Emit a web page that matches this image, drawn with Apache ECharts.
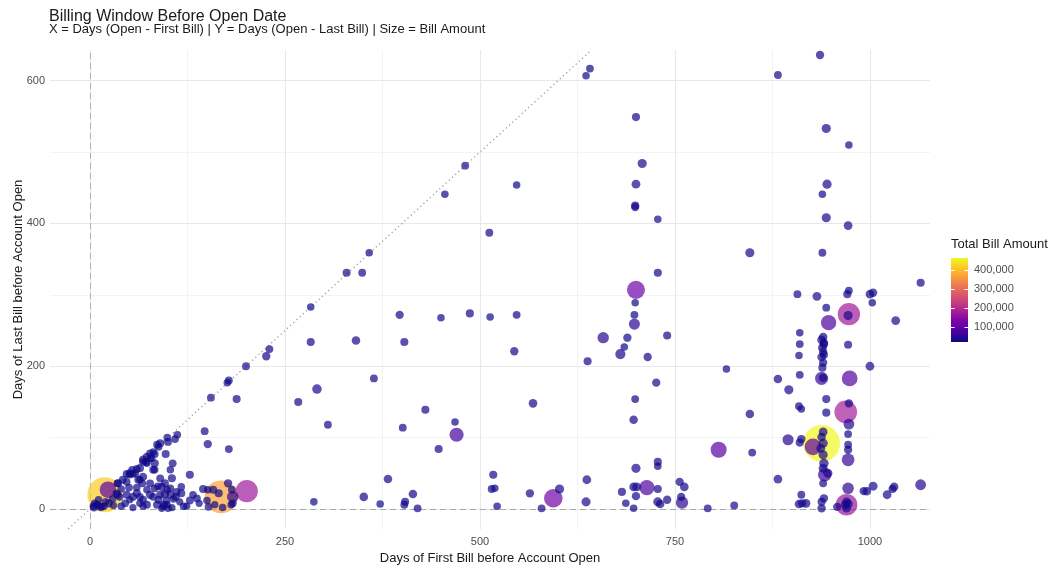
<!DOCTYPE html>
<html>
<head>
<meta charset="utf-8">
<script src="https://cdn.jsdelivr.net/npm/echarts@6/dist/echarts.min.js"></script>
<style>
  html, body { margin: 0; padding: 0; background: #ffffff; }
  #chart { width: 1058px; height: 567px; }
</style>
</head>
<body>
<div id="chart"></div>
<script>
// Each account: [days from first bill to open, days from last bill to open, total bill amount]
const earlyCluster = [
  [19, 20, 418000], [23, 27, 95000], [168, 17, 372000], [201, 25, 170000],
  [5, 2, 24000], [8, 6, 22000], [11, 13, 23000], [13, 3, 25000], [18, 4, 22000], [24, 8, 26000],
  [29, 14, 23000], [34, 22, 24000], [4, 4, 22000], [6, 8, 23000], [10, 6, 22000], [15, 3, 24000],
  [20, 10, 23000], [30, 5, 22000], [40, 4, 23000], [45, 8, 24000], [55, 2, 22000],
  [35, 20, 25000], [38, 17, 23000], [47, 20, 24000], [51, 13, 22000], [55, 17, 26000], [64, 8, 23000],
  [68, 4, 22000], [73, 6, 24000], [60, 22, 25000], [64, 17, 23000], [68, 13, 24000], [73, 27, 23000],
  [77, 20, 26000], [83, 29, 24000], [92, 31, 25000], [99, 27, 23000], [103, 20, 24000],
  [81, 17, 23000], [90, 20, 24000], [96, 21, 27000], [98, 12, 23000], [95, 6, 24000], [92, 1, 22000],
  [100, 1, 23000], [105, 2, 22000], [86, 6, 25000], [94, 4, 23000], [99, 6, 22000], [88, 13, 24000],
  [110, 17, 24000], [107, 14, 23000], [115, 10, 22000], [117, 22, 25000], [120, 4, 23000], [124, 4, 22000],
  [128, 12, 24000], [132, 20, 23000], [137, 15, 24000], [140, 8, 22000], [150, 12, 23000], [152, 3, 24000],
  [160, 6, 22000], [165, 22, 25000], [170, 2, 23000], [145, 28, 25000], [151, 27, 23000], [158, 27, 24000],
  [177, 36, 26000], [182, 27, 24000], [183, 17, 45000], [181, 6, 23000], [183, 8, 24000],
  [40, 28, 23000], [50, 30, 24000], [60, 30, 23000], [36, 36, 25000], [35, 36, 23000], [42, 41, 24000],
  [47, 38, 23000], [62, 41, 25000], [67, 36, 24000], [64, 41, 23000], [68, 45, 26000], [77, 36, 24000],
  [87, 32, 23000], [96, 36, 25000], [47, 49, 24000], [51, 48, 23000], [51, 50, 25000], [55, 49, 23000],
  [58, 50, 24000], [54, 55, 23000], [60, 56, 24000], [64, 57, 25000], [81, 55, 24000], [83, 55, 23000],
  [83, 64, 25000], [73, 64, 23000], [68, 66, 24000], [72, 66, 23000], [68, 69, 26000], [77, 71, 24000],
  [79, 71, 23000], [73, 73, 25000], [77, 78, 24000], [81, 80, 23000], [83, 77, 24000], [97, 77, 25000],
  [86, 90, 24000], [88, 87, 23000], [90, 92, 25000], [100, 94, 24000], [99, 100, 23000], [109, 98, 24000],
  [112, 104, 23000], [90, 43, 24000], [105, 43, 25000], [103, 55, 23000], [106, 64, 24000], [128, 48, 25000],
  [103, 29, 23000], [111, 24, 24000], [117, 31, 23000], [147, 109, 24000], [151, 91, 26000], [178, 84, 24000],
  [155, 156, 24000], [188, 154, 25000], [178, 180, 24000], [176, 177, 23000], [200, 200, 24000],
  [230, 224, 24000], [226, 214, 26000]
];

const midSpread = [
  [267, 150, 25000], [283, 283, 23000], [283, 234, 25000], [291, 168, 32000], [305, 118, 24000],
  [329, 331, 25000], [349, 331, 24000], [358, 359, 23000], [341, 236, 27000], [364, 183, 24000],
  [382, 42, 27000], [397, 272, 26000], [401, 114, 24000], [403, 234, 25000], [414, 21, 27000],
  [404, 10, 25000], [403, 6, 24000], [420, 1, 24000], [372, 7, 23000], [351, 17, 27000], [287, 10, 23000],
  [430, 139, 25000], [447, 84, 25000], [450, 268, 23000], [455, 441, 23000], [468, 122, 23000],
  [470, 104, 68000], [481, 481, 24000], [487, 274, 25000], [512, 387, 24000], [513, 269, 23000],
  [515, 28, 24000], [517, 48, 25000], [519, 29, 23000], [522, 4, 23000], [544, 221, 26000],
  [547, 272, 24000], [547, 454, 23000], [564, 22, 26000], [568, 148, 27000], [579, 1, 24000],
  [594, 15, 118000], [602, 28, 30000],
  [641, 617, 24000], [636, 607, 23000], [700, 549, 25000], [708, 484, 30000], [700, 455, 28000],
  [699, 425, 25000], [699, 423, 26000], [728, 406, 23000], [728, 331, 25000], [700, 307, 112000],
  [699, 289, 23000], [698, 272, 24000], [698, 259, 42000], [658, 240, 44000], [689, 240, 26000],
  [685, 227, 23000], [680, 217, 36000], [715, 213, 26000], [740, 243, 25000], [638, 207, 25000],
  [726, 177, 26000], [699, 154, 24000], [697, 125, 27000], [700, 57, 30000], [728, 66, 25000],
  [728, 60, 23000], [637, 41, 28000], [636, 10, 30000], [682, 24, 25000], [687, 8, 23000],
  [697, 31, 27000], [701, 31, 29000], [714, 30, 80000], [700, 18, 26000], [697, 1, 23000],
  [728, 28, 25000], [728, 10, 30000], [731, 7, 27000], [740, 13, 26000], [756, 38, 26000],
  [762, 31, 27000], [758, 17, 26000], [759, 9, 52000], [792, 1, 24000], [826, 5, 24000],
  [806, 83, 88000], [816, 196, 23000], [846, 359, 30000], [846, 133, 27000], [849, 79, 24000]
];

const lateBills = [
  [936, 636, 26000], [882, 608, 24000], [944, 533, 30000], [973, 510, 23000], [945, 455, 30000],
  [939, 441, 23000], [944, 408, 30000], [972, 397, 28000], [939, 359, 24000], [1065, 317, 25000],
  [907, 301, 24000], [932, 298, 28000], [973, 306, 24000], [971, 301, 25000], [1000, 301, 27000],
  [1004, 303, 26000], [1003, 289, 23000], [944, 282, 24000], [973, 273, 172000], [972, 271, 30000],
  [947, 261, 80000], [1033, 264, 28000], [910, 247, 23000], [910, 231, 24000], [909, 215, 23000],
  [940, 241, 27000], [938, 237, 28000], [941, 233, 26000], [941, 231, 27000], [939, 226, 28000],
  [940, 220, 26000], [941, 216, 25000], [938, 213, 27000], [940, 205, 26000], [939, 198, 25000],
  [972, 230, 25000], [1000, 200, 28000], [910, 188, 24000], [938, 183, 58000], [940, 184, 27000],
  [974, 183, 85000], [882, 182, 27000], [896, 167, 30000], [944, 154, 25000], [909, 144, 24000],
  [912, 140, 23000], [973, 148, 26000], [969, 136, 178000], [944, 135, 25000], [973, 119, 40000],
  [972, 105, 24000], [895, 97, 42000], [912, 98, 26000], [910, 93, 25000], [938, 92, 462000],
  [927, 87, 95000], [940, 108, 28000], [938, 101, 27000], [940, 92, 30000], [937, 85, 28000],
  [940, 76, 30000], [941, 64, 31000], [940, 57, 29000], [972, 90, 24000], [972, 83, 26000],
  [972, 69, 55000], [942, 48, 62000], [946, 50, 30000], [940, 36, 24000], [882, 42, 28000],
  [972, 29, 45000], [992, 25, 26000], [996, 25, 27000], [1004, 32, 29000], [1022, 20, 28000],
  [1031, 31, 27000], [1029, 28, 25000], [1065, 34, 40000], [912, 20, 24000], [909, 7, 27000],
  [913, 8, 26000], [918, 8, 28000], [941, 15, 26000], [938, 10, 25000], [938, 1, 26000],
  [958, 3, 26000], [970, 10, 28000], [972, 7, 30000], [968, 6, 27000], [970, 6, 162000], [970, 1, 27000]
];

// Axis ticks and gridlines
const xMajorTicks = [0, 250, 500, 750, 1000];
const xMinorTicks = [125, 375, 625, 875];
const yMajorTicks = [0, 200, 400, 600];
const yMinorTicks = [100, 300, 500];
const legendTicks = [100000, 200000, 300000, 400000];

// Colour / size scale domain (bill amount)
const amountMin = 20000;
const amountMax = 465000;

// Plasma palette, low -> high
const plasma = ['#0d0887', '#4c02a1', '#7e03a8', '#a92395', '#cc4778',
                '#e56b5d', '#f89441', '#fdc328', '#f0f921'];

// Visible panel range
const xRange = [-51.3, 1077];
const yRange = [-28, 643];

function sizeOf(amount) {
  const t = Math.max(0, Math.min(1, (amount - amountMin) / (amountMax - amountMin)));
  return 6 + 31 * Math.pow(t, 0.6);
}

// big bubbles first so small ones stay visible on top
const points = earlyCluster.concat(midSpread, lateBills)
  .slice()
  .sort((a, b) => b[2] - a[2]);

const FONT = '"Liberation Sans", Arial, sans-serif';

const chart = echarts.init(document.getElementById('chart'), null, { renderer: 'canvas' });

function helperLine(data, style, z) {
  return {
    type: 'line',
    data: [],
    silent: true,
    z: z,
    markLine: {
      silent: true,
      z: z,
      symbol: ['none', 'none'],
      label: { show: false },
      emphasis: { disabled: true },
      lineStyle: style,
      animation: false,
      data: data
    }
  };
}

// colour bar legend, built with graphic elements
const barX = 951, barW = 17, barTop = 258, barBottom = 342;
function legendY(v) {
  return barBottom - (v - amountMin) / (amountMax - amountMin) * (barBottom - barTop);
}
const legendGraphics = [
  {
    type: 'text', left: 951, top: 238,
    style: { text: 'Total Bill Amount', fill: '#1a1a1a', font: '13px ' + FONT }
  },
  {
    type: 'rect', shape: { x: barX, y: barTop, width: barW, height: barBottom - barTop },
    style: {
      fill: new echarts.graphic.LinearGradient(0, 1, 0, 0,
        plasma.map((c, i) => ({ offset: i / (plasma.length - 1), color: c })))
    }
  }
];
legendTicks.forEach(v => {
  const y = Math.round(legendY(v)) + 0.5;
  legendGraphics.push(
    { type: 'line', shape: { x1: barX, y1: y, x2: barX + 3.5, y2: y }, style: { stroke: '#ffffff', lineWidth: 1 } },
    { type: 'line', shape: { x1: barX + barW - 3.5, y1: y, x2: barX + barW, y2: y }, style: { stroke: '#ffffff', lineWidth: 1 } },
    {
      type: 'text', x: barX + barW + 6, y: legendY(v),
      style: {
        text: v.toLocaleString('en-US'), fill: '#4d4d4d',
        font: '11px ' + FONT, verticalAlign: 'middle'
      }
    }
  );
});

const option = {
  animation: false,
  backgroundColor: '#ffffff',
  textStyle: { fontFamily: FONT },
  title: [
    {
      text: 'Billing Window Before Open Date',
      left: 49, top: 9, padding: 0,
      textStyle: { fontSize: 16, fontWeight: 'normal', color: '#1a1a1a' }
    },
    {
      text: 'X = Days (Open - First Bill) | Y = Days (Open - Last Bill) | Size = Bill Amount',
      left: 49, top: 23, padding: 0,
      textStyle: { fontSize: 13, fontWeight: 'normal', color: '#1a1a1a' }
    }
  ],
  grid: { left: 50, right: 128, top: 50, bottom: 38, outerBoundsMode: 'none', containLabel: false },
  xAxis: {
    type: 'value', min: xRange[0], max: xRange[1],
    name: 'Days of First Bill before Account Open',
    nameLocation: 'middle', nameGap: 23, nameMoveOverlap: false,
    nameTextStyle: { fontSize: 13, color: '#1a1a1a' },
    axisLine: { show: false }, axisTick: { show: false }, splitLine: { show: false },
    axisLabel: { customValues: xMajorTicks, color: '#4d4d4d', fontSize: 11, margin: 7,
                 formatter: v => String(v) }
  },
  yAxis: {
    type: 'value', min: yRange[0], max: yRange[1],
    name: 'Days of Last Bill before Account Open',
    nameLocation: 'middle', nameGap: 25, nameMoveOverlap: false,
    nameTextStyle: { fontSize: 13, color: '#1a1a1a' },
    axisLine: { show: false }, axisTick: { show: false }, splitLine: { show: false },
    axisLabel: { customValues: yMajorTicks, color: '#4d4d4d', fontSize: 11, margin: 5,
                 formatter: v => String(v) }
  },
  visualMap: {
    type: 'continuous', show: false, seriesIndex: 5, dimension: 2,
    min: amountMin, max: amountMax,
    inRange: { color: plasma }
  },
  graphic: legendGraphics,
  series: [
    helperLine(xMinorTicks.map(v => ({ xAxis: v })).concat(yMinorTicks.map(v => ({ yAxis: v }))),
      { color: '#f0f0f0', width: 0.8, type: 'solid' }, 0),
    helperLine(xMajorTicks.map(v => ({ xAxis: v })).concat(yMajorTicks.map(v => ({ yAxis: v }))),
      { color: '#e8e8e8', width: 1.1, type: 'solid' }, 0),
    helperLine([{ xAxis: 0 }], { color: '#b0b0b0', width: 1, type: [6, 4] }, 1),
    helperLine([{ yAxis: 0 }], { color: '#a8a8a8', width: 1.2, type: [6, 4] }, 1),
    helperLine([[{ coord: [yRange[0], yRange[0]] }, { coord: [yRange[1], yRange[1]] }]],
      { color: '#a0a0a0', width: 1.3, type: [1.3, 3] }, 1),
    {
      name: 'Accounts',
      type: 'scatter',
      z: 3,
      data: points,
      symbolSize: v => sizeOf(v[2]),
      itemStyle: { opacity: 0.7 },
      emphasis: { disabled: true }
    }
  ]
};

chart.setOption(option);
</script>
</body>
</html>
